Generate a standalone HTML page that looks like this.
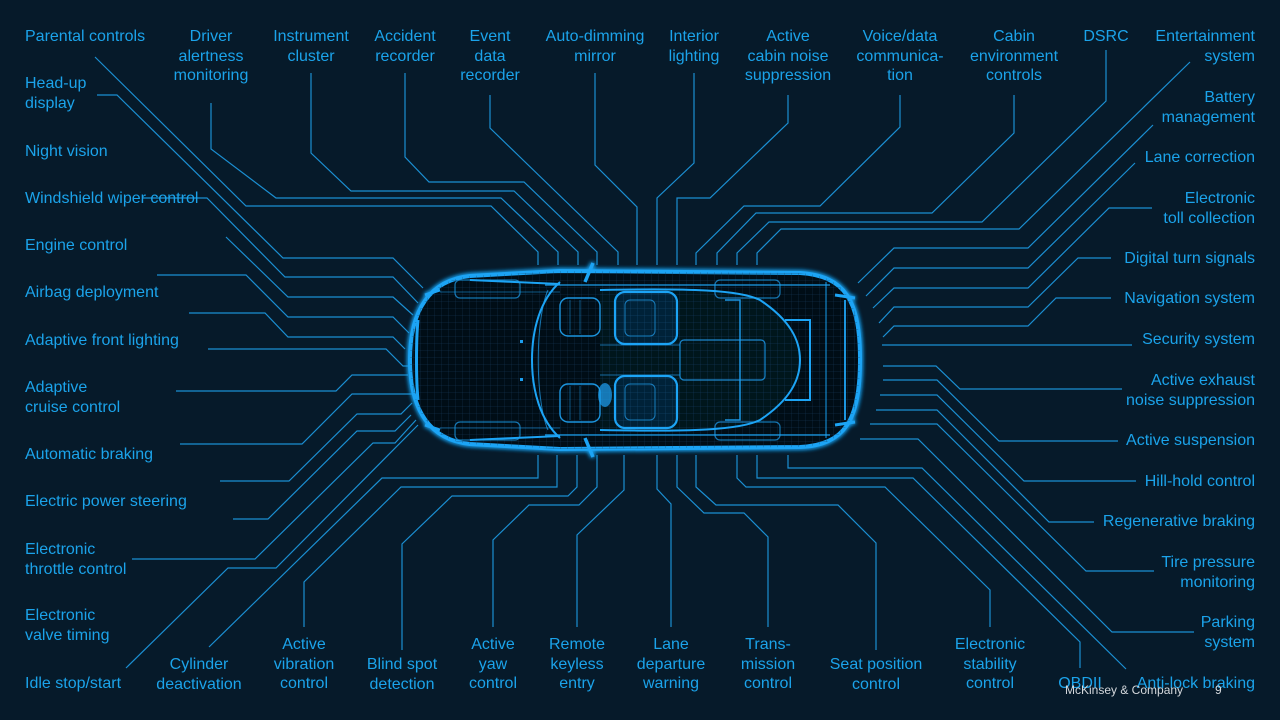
<!DOCTYPE html>
<html><head><meta charset="utf-8"><style>
html,body{margin:0;padding:0;}
body{width:1280px;height:720px;background:#061a2a;position:relative;overflow:hidden;font-family:"Liberation Sans",Arial,sans-serif;}
.l{position:absolute;color:#1ba3ea;font-size:16px;line-height:19.6px;white-space:nowrap;}
.c{transform:translateX(-50%);text-align:center;}
.r{transform:translateX(-100%);text-align:right;}
svg{position:absolute;left:0;top:0;}
.f{position:absolute;color:#d4d8dc;font-size:12px;line-height:14px;}
</style></head><body>
<svg width="1280" height="720" viewBox="0 0 1280 720">
<defs>
<filter id="g" x="-20%" y="-20%" width="140%" height="140%"><feGaussianBlur stdDeviation="2.5" result="b"/><feMerge><feMergeNode in="b"/><feMergeNode in="b"/><feMergeNode in="SourceGraphic"/></feMerge></filter>
<pattern id="grid" width="7" height="7" patternUnits="userSpaceOnUse"><path d="M7 0H0V7" fill="none" stroke="#0f3d5e" stroke-width="0.5"/></pattern>
</defs>
<g fill="none" stroke="#1b8fd2" stroke-width="1.2">
<polyline points="211,103 211,149 276,198 501,198 558,252 558,265"/>
<polyline points="95,57 246,206 491,206 538,252 538,265"/>
<polyline points="311,73 311,153 351,191 514,191 578,252 578,265"/>
<polyline points="405,73 405,157 429,182 524,182 597,252 597,265"/>
<polyline points="490,95 490,128 618,252 618,265"/>
<polyline points="595,73 595,165 637,207 637,265"/>
<polyline points="694,73 694,163 657,198 657,265"/>
<polyline points="788,95 788,123 710,198 677,198 677,265"/>
<polyline points="900,95 900,127 820,206 744,206 696,253 696,265"/>
<polyline points="1014,95 1014,133 932,213 756,213 717,253 717,265"/>
<polyline points="1106,50 1106,101 982,222 769,222 737,253 737,265"/>
<polyline points="1190,62 1019,229 781,229 757,253 757,265"/>
<polyline points="1153,125 1028,248 894,248 858,283"/>
<polyline points="1135,163 1028,268 894,268 866,296"/>
<polyline points="1152,208 1109,208 1028,288 894,288 873,308"/>
<polyline points="1111,258 1078,258 1028,307 894,307 879,323"/>
<polyline points="1111,298 1056,298 1028,326 894,326 883,337"/>
<polyline points="1132,345 882,345"/>
<polyline points="1122,389 960,389 936,366 883,366"/>
<polyline points="1118,441 999,441 937,380 883,380"/>
<polyline points="1136,481 1024,481 937,395 880,395"/>
<polyline points="1094,522 1049,522 937,410 876,410"/>
<polyline points="1154,571 1086,571 937,424 870,424"/>
<polyline points="1194,632 1112,632 918,439 860,439"/>
<polyline points="1126,669 922,468 788,468 788,455"/>
<polyline points="1080,668 1080,642 913,478 757,478 757,455"/>
<polyline points="990,627 990,590 885,487 746,487 737,478 737,455"/>
<polyline points="876,650 876,543 838,505 716,505 696,487 696,455"/>
<polyline points="768,627 768,537 744,513 704,513 677,487 677,455"/>
<polyline points="671,627 671,504 657,489 657,455"/>
<polyline points="577,627 577,535 624,490 624,455"/>
<polyline points="493,627 493,540 529,505 579,505 597,487 597,455"/>
<polyline points="402,650 402,544 452,496 568,496 577,487 577,455"/>
<polyline points="304,627 304,582 401,487 557,487 557,455"/>
<polyline points="209,647 382,478 538,478 538,455"/>
<polyline points="126,668 228,568 276,568 418,425"/>
<polyline points="132,559 255,559 373,443 395,443 416,420"/>
<polyline points="233,519 268,519 357,431 395,431 411,415"/>
<polyline points="220,481 289,481 357,414 401,414 412,403"/>
<polyline points="180,444 302,444 352,394 412,394"/>
<polyline points="176,391 336,391 352,375 408,375"/>
<polyline points="97,95 117,95 283,258 393,258 423,288"/>
<polyline points="143,198 207,198 285,277 393,277 418,303"/>
<polyline points="226,237 288,297 393,297 413,315"/>
<polyline points="157,275 246,275 288,317 393,317 409,333"/>
<polyline points="189,313 265,313 288,337 393,337 405,349"/>
<polyline points="208,349 386,349 403,366 410,366"/>
</g>
<g filter="url(#g)" stroke="#1ea4f5" fill="none">
<path d="M470 276 C430 280 410 310 410 360 C410 410 430 440 470 444 L560 449 L800 447 C845 445 860 420 860 360 C860 300 845 276 800 273 L560 271 Z" fill="#020b13" stroke-width="4"/>
<path d="M470 276 C430 280 410 310 410 360 C410 410 430 440 470 444 L560 449 L800 447 C845 445 860 420 860 360 C860 300 845 276 800 273 L560 271 Z" fill="url(#grid)" stroke="none"/>
<path d="M418 320 C416 340 416 380 418 400" stroke-width="3"/>
<path d="M560 282 C540 300 532 330 532 360 C532 390 540 420 560 438" stroke-width="2"/>
<path d="M548 290 C535 320 535 400 548 430" stroke-width="1" opacity="0.7"/>
<path d="M545 285 L830 285 M545 435 L830 435" stroke-width="1.5" opacity="0.8"/>
<path d="M470 280 L560 284 M470 440 L560 436" stroke-width="2"/>
<path d="M440 292 L560 292 M440 428 L560 428" stroke-width="1" opacity="0.5"/>
<rect x="455" y="280" width="65" height="18" rx="5" stroke-width="1.2" opacity="0.7"/>
<rect x="455" y="422" width="65" height="18" rx="5" stroke-width="1.2" opacity="0.7"/>
<rect x="715" y="280" width="65" height="18" rx="5" stroke-width="1.2" opacity="0.7"/>
<rect x="715" y="422" width="65" height="18" rx="5" stroke-width="1.2" opacity="0.7"/>
<path d="M600 290 C690 288 740 290 760 300 C790 320 800 340 800 360 C800 380 790 400 760 420 C740 430 690 432 600 430" stroke-width="2" fill="rgba(30,160,245,0.06)"/>
<rect x="615" y="292" width="62" height="52" rx="10" stroke-width="2.2" fill="rgba(30,160,245,0.12)"/>
<rect x="615" y="376" width="62" height="52" rx="10" stroke-width="2.2" fill="rgba(30,160,245,0.12)"/>
<rect x="625" y="300" width="30" height="36" rx="5" stroke-width="1" opacity="0.7"/>
<rect x="625" y="384" width="30" height="36" rx="5" stroke-width="1" opacity="0.7"/>
<rect x="560" y="298" width="40" height="38" rx="8" stroke-width="1.4" opacity="0.9"/>
<rect x="560" y="384" width="40" height="38" rx="8" stroke-width="1.4" opacity="0.9"/>
<path d="M570 300 L570 334 M580 300 L580 334 M570 386 L570 420 M580 386 L580 420" stroke-width="0.8" opacity="0.6"/>
<rect x="680" y="340" width="85" height="40" rx="4" stroke-width="1.2" opacity="0.8"/>
<path d="M600 345 L680 345 M600 375 L680 375" stroke-width="1" opacity="0.6"/>
<path d="M725 300 L740 300 L740 420 L725 420" stroke-width="1.5" opacity="0.9"/>
<path d="M785 320 L810 320 L810 400 L785 400" stroke-width="2"/>
<path d="M826 282 L826 438" stroke-width="1.2" opacity="0.8"/>
<path d="M845 300 L845 420" stroke-width="2" opacity="0.9"/>
<path d="M835 295 L855 298 M835 425 L855 422" stroke-width="3"/>
<ellipse cx="605" cy="395" rx="7" ry="12" fill="#1ea4f5" opacity="0.7" stroke="none"/>
<path d="M585 282 L593 263 M585 438 L593 457" stroke-width="3.5"/>
<path d="M425 295 L440 290 M425 425 L440 430" stroke-width="3"/>
</g>
<rect x="520" y="340" width="3" height="3" fill="#1c9ff0"/>
<rect x="520" y="378" width="3" height="3" fill="#1c9ff0"/>
</svg>

<div class="l" style="left:25px;top:27px">Parental controls</div>
<div class="l c" style="left:211px;top:27px">Driver<br>alertness<br>monitoring</div>
<div class="l c" style="left:311px;top:27px">Instrument<br>cluster</div>
<div class="l c" style="left:405px;top:27px">Accident<br>recorder</div>
<div class="l c" style="left:490px;top:27px">Event<br>data<br>recorder</div>
<div class="l c" style="left:595px;top:27px">Auto-dimming<br>mirror</div>
<div class="l c" style="left:694px;top:27px">Interior<br>lighting</div>
<div class="l c" style="left:788px;top:27px">Active<br>cabin noise<br>suppression</div>
<div class="l c" style="left:900px;top:27px">Voice/data<br>communica-<br>tion</div>
<div class="l c" style="left:1014px;top:27px">Cabin<br>environment<br>controls</div>
<div class="l c" style="left:1106px;top:27px">DSRC</div>
<div class="l r" style="left:1255px;top:27px">Entertainment<br>system</div>
<div class="l r" style="left:1255px;top:88px">Battery<br>management</div>
<div class="l r" style="left:1255px;top:148px">Lane correction</div>
<div class="l r" style="left:1255px;top:189px">Electronic<br>toll collection</div>
<div class="l r" style="left:1255px;top:249px">Digital turn signals</div>
<div class="l r" style="left:1255px;top:289px">Navigation system</div>
<div class="l r" style="left:1255px;top:330px">Security system</div>
<div class="l r" style="left:1255px;top:371px">Active exhaust<br>noise suppression</div>
<div class="l r" style="left:1255px;top:431px">Active suspension</div>
<div class="l r" style="left:1255px;top:472px">Hill-hold control</div>
<div class="l r" style="left:1255px;top:512px">Regenerative braking</div>
<div class="l r" style="left:1255px;top:553px">Tire pressure<br>monitoring</div>
<div class="l r" style="left:1255px;top:613px">Parking<br>system</div>
<div class="l r" style="left:1255px;top:674px">Anti-lock braking</div>
<div class="l" style="left:25px;top:74px">Head-up<br>display</div>
<div class="l" style="left:25px;top:142px">Night vision</div>
<div class="l" style="left:25px;top:189px">Windshield wiper control</div>
<div class="l" style="left:25px;top:236px">Engine control</div>
<div class="l" style="left:25px;top:283px">Airbag deployment</div>
<div class="l" style="left:25px;top:331px">Adaptive front lighting</div>
<div class="l" style="left:25px;top:378px">Adaptive<br>cruise control</div>
<div class="l" style="left:25px;top:445px">Automatic braking</div>
<div class="l" style="left:25px;top:492px">Electric power steering</div>
<div class="l" style="left:25px;top:540px">Electronic<br>throttle control</div>
<div class="l" style="left:25px;top:606px">Electronic<br>valve timing</div>
<div class="l" style="left:25px;top:674px">Idle stop/start</div>
<div class="l c" style="left:199px;top:655px">Cylinder<br>deactivation</div>
<div class="l c" style="left:304px;top:635px">Active<br>vibration<br>control</div>
<div class="l c" style="left:402px;top:655px">Blind spot<br>detection</div>
<div class="l c" style="left:493px;top:635px">Active<br>yaw<br>control</div>
<div class="l c" style="left:577px;top:635px">Remote<br>keyless<br>entry</div>
<div class="l c" style="left:671px;top:635px">Lane<br>departure<br>warning</div>
<div class="l c" style="left:768px;top:635px">Trans-<br>mission<br>control</div>
<div class="l c" style="left:876px;top:655px">Seat position<br>control</div>
<div class="l c" style="left:990px;top:635px">Electronic<br>stability<br>control</div>
<div class="l c" style="left:1080px;top:674px">OBDII</div>
<div class="f" style="left:1065px;top:683px">McKinsey &amp; Company</div>
<div class="f" style="left:1215px;top:683px">9</div>
</body></html>
